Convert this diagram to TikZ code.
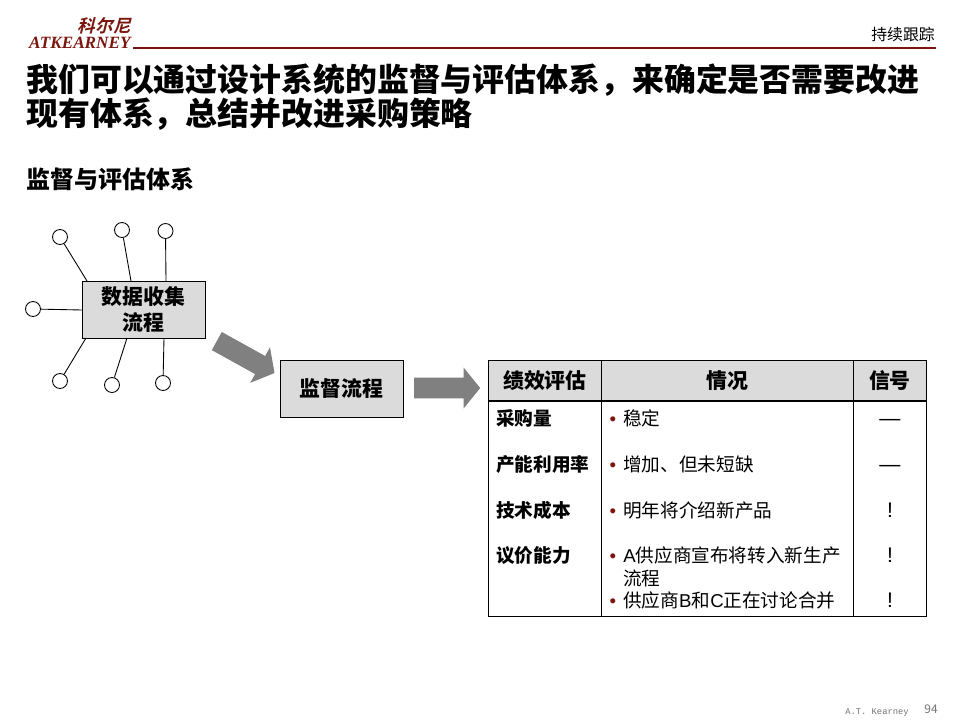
\documentclass[tikz,border=0pt]{standalone}
\usepackage{fontspec}
\setmainfont{Noto Sans CJK SC}
\newfontfamily\logolatin{Liberation Serif}
\newfontfamily\logocjk[FakeSlant=0.25]{Noto Sans CJK SC Bold}
\newfontfamily\footfont{Liberation Mono}
\newfontfamily\latinfont{Liberation Sans}
\usepackage{tikz}
\usetikzlibrary{arrows.meta, positioning, shapes.arrows}
\definecolor{brandred}{RGB}{122,22,14}
\definecolor{boxgray}{RGB}{219,219,219}
\definecolor{arrowgray}{RGB}{128,128,128}
\tikzset{
  sizedfont/.style={font=\fontsize{#1}{#1}\selectfont},
  titleline/.style={anchor=base west, inner sep=0pt, font=\fontsize{18.15}{20}\selectfont\bfseries},
  flowbox/.style={draw, fill=boxgray, line width=0.5pt, minimum width=2.46cm, minimum height=1.14cm,
    inner sep=0pt, align=center, font=\fontsize{11.9}{15.3}\selectfont\bfseries},
  sensor/.style={circle, draw, fill=white, line width=0.5pt, minimum size=0.3cm, inner sep=0pt},
  flowarrow/.style={single arrow, fill=arrowgray, inner xsep=0pt, inner ysep=0.2cm, minimum height=1.32cm,
    minimum width=0.8cm, single arrow head extend=0.2cm, single arrow head indent=0cm, single arrow tip angle=102},
  headcell/.style={draw, fill=boxgray, line width=0.5pt, anchor=north west, inner sep=0pt,
    minimum height=0.82cm, font=\fontsize{11.9}{14}\selectfont\bfseries},
  bodycell/.style={draw, line width=0.5pt, anchor=north west, minimum height=4.32cm},
  rowlabel/.style={anchor=base west, inner sep=0pt, font=\fontsize{10.6}{12}\selectfont\bfseries},
  rowtext/.style={anchor=base west, inner sep=0pt, font=\fontsize{10.6}{12}\selectfont},
  rowmark/.style={anchor=base, inner sep=0pt, text=brandred, font=\latinfont\fontsize{10.6}{12}\selectfont},
  rowsignal/.style={anchor=base, inner sep=0pt, font=\latinfont\fontsize{12}{12}\selectfont}
}
\begin{document}
\begin{tikzpicture}[x=0.02cm, y=-0.02cm]
  \useasboundingbox (0,0) rectangle (960,720);
  % header
  \node[anchor=base east, inner sep=0pt, text=brandred, font=\logocjk\fontsize{10}{10}\selectfont] (logoCn) at (131,32) {科尔尼};
  \node[anchor=base east, inner sep=0pt, text=brandred, font=\logolatin\fontsize{9.8}{10}\selectfont\bfseries\itshape] (logoEn) at (131,49) {ATKEARNEY};
  \draw[brandred, line width=1.7pt] (133,48) -- (936,48);
  \node[anchor=base east, inner sep=0pt, sizedfont=9] (tag) at (935,40) {持续跟踪};
  \node[titleline] (titleA) at (26,91) {我们可以通过设计系统的监督与评估体系，来确定是否需要改进};
  \node[titleline] (titleB) at (26,125) {现有体系，总结并改进采购策略};
  \node[anchor=base west, inner sep=0pt, font=\fontsize{13.65}{15}\selectfont\bfseries] (subtitle) at (26,188) {监督与评估体系};

  % data sources around the first box
  \node[flowbox] (collect) at (143.5,309.5) {数据收集\\流程};
  \foreach \n/\cx/\cy/\px/\py in {1/60/237/87/281, 2/122/230/131/281, 3/165.5/231/166/281,
      4/33/309/82/310, 5/60/381/86/338, 6/112/385/127/338, 7/163/383/164/338}{
    \node[sensor] (sensor\n) at (\cx,\cy) {};
    \coordinate (port\n) at (\px,\py);
    \draw[line width=0.5pt] (sensor\n) -- (port\n);
  }

  \node[flowbox] (monitor) at (341.5,388.5) {监督流程};
  \node[flowarrow, rotate=-29] (arrowA) at (242,355) {};
  \node[flowarrow] (arrowB) at (443,388) {};

  % table
  \node[headcell, minimum width=2.26cm] (headA) at (488,359.5) {绩效评估};
  \node[headcell, minimum width=5.04cm] (headB) at (601,359.5) {情况};
  \node[headcell, minimum width=1.46cm] (headC) at (853,359.5) {信号};
  \node[bodycell, minimum width=2.26cm] (bodyA) at (488,400.5) {};
  \node[bodycell, minimum width=5.04cm] (bodyB) at (601,400.5) {};
  \node[bodycell, minimum width=1.46cm] (bodyC) at (853,400.5) {};

  \foreach \y/\lbl/\txt/\sig in {425/采购量/稳定/—, 471/产能利用率/增加、但未短缺/—,
      517/技术成本/明年将介绍新产品/!, 562/议价能力/{\latinfont A}供应商宣布将转入新生产/!}{
    \node[rowlabel] at (496,\y) {\lbl};
    \node[rowmark] at (613,\y) {•};
    \node[rowtext] at (623,\y) {\txt};
    \node[rowsignal] at (890,\y) {\sig};
  }
  \node[rowtext] (wrapped) at (623,585) {流程};
  \node[rowmark] (lastMark) at (613,607) {•};
  \node[rowtext] (lastText) at (623,607) {供应商{\latinfont B}和{\latinfont C}正在讨论合并};
  \node[rowsignal] (lastSignal) at (890,607) {!};

  % footer
  \node[anchor=base west, inner sep=0pt, text=black!55, font=\footfont\fontsize{5}{6}\selectfont] (firm) at (845,714) {A.T. Kearney};
  \node[anchor=base east, inner sep=0pt, text=black!55, sizedfont=6.8] (page) at (938,713) {94};
\end{tikzpicture}
\end{document}
